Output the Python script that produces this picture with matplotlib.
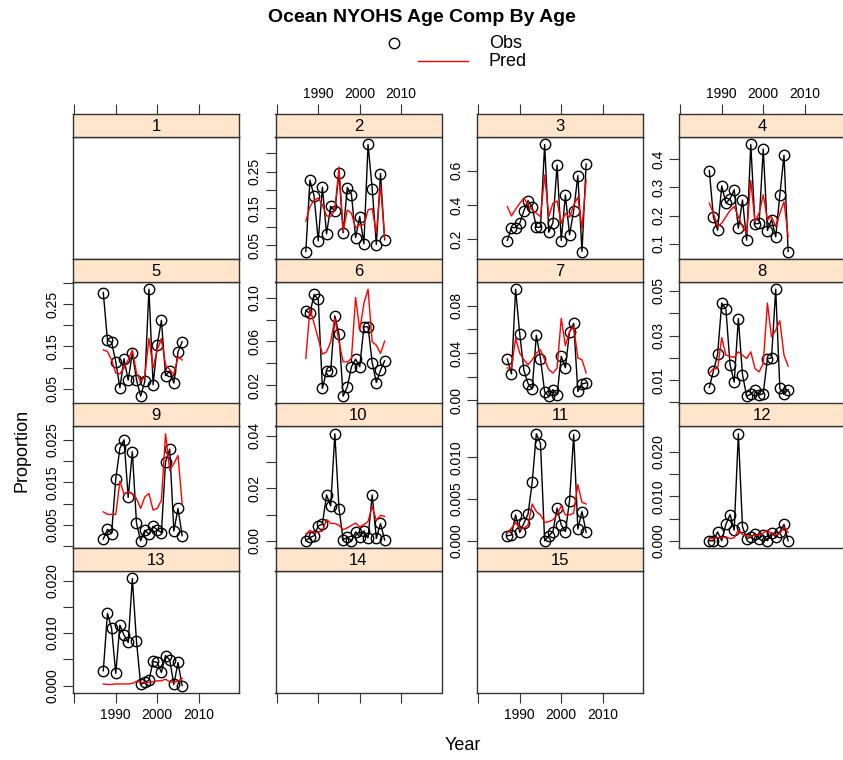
import numpy as np
import matplotlib.pyplot as plt

plt.rcParams['font.family'] = ['Liberation Sans', 'DejaVu Sans']

years = np.arange(1987, 2007)
ages = list(range(1, 16))

# observed / predicted proportions by age (ages 1, 14, 15 have no data)
obs_2 = [0.033, 0.227, 0.184, 0.062, 0.208, 0.081, 0.156, 0.143, 0.247, 0.084,
         0.207, 0.188, 0.071, 0.128, 0.054, 0.324, 0.204, 0.052, 0.245, 0.065]
pred_2 = [0.115, 0.155, 0.173, 0.178, 0.160, 0.130, 0.128, 0.146, 0.263, 0.088,
          0.146, 0.137, 0.097, 0.106, 0.106, 0.146, 0.150, 0.083, 0.214, 0.070]
obs_3 = [0.192, 0.268, 0.268, 0.293, 0.367, 0.425, 0.388, 0.270, 0.270, 0.753,
         0.241, 0.297, 0.633, 0.192, 0.458, 0.225, 0.367, 0.571, 0.128, 0.639]
pred_3 = [0.390, 0.336, 0.375, 0.410, 0.440, 0.400, 0.371, 0.351, 0.332, 0.575,
          0.332, 0.410, 0.423, 0.293, 0.351, 0.328, 0.400, 0.445, 0.264, 0.546]
obs_4 = [0.359, 0.194, 0.148, 0.305, 0.244, 0.259, 0.291, 0.155, 0.255, 0.113,
         0.451, 0.171, 0.172, 0.435, 0.147, 0.186, 0.125, 0.273, 0.413, 0.073]
pred_4 = [0.244, 0.208, 0.161, 0.173, 0.196, 0.218, 0.232, 0.196, 0.161, 0.138,
          0.324, 0.179, 0.208, 0.273, 0.185, 0.196, 0.161, 0.208, 0.249, 0.126]
obs_5 = [0.278, 0.165, 0.160, 0.114, 0.052, 0.121, 0.070, 0.135, 0.071, 0.032,
         0.067, 0.286, 0.059, 0.154, 0.212, 0.081, 0.092, 0.063, 0.137, 0.161]
pred_5 = [0.142, 0.138, 0.118, 0.087, 0.085, 0.099, 0.118, 0.142, 0.087, 0.067,
          0.079, 0.169, 0.099, 0.142, 0.169, 0.106, 0.095, 0.083, 0.126, 0.118]
obs_6 = [0.0883, 0.0856, 0.103, 0.0984, 0.017, 0.0331, 0.0331, 0.0834, 0.0664, 0.0099,
         0.0185, 0.0368, 0.0438, 0.0368, 0.0734, 0.0734, 0.0407, 0.0224, 0.0337, 0.0423]
pred_6 = [0.0444, 0.090, 0.0764, 0.0627, 0.0484, 0.0505, 0.0596, 0.081, 0.0596, 0.0413,
          0.0413, 0.0444, 0.1002, 0.0703, 0.0947, 0.1078, 0.0596, 0.0566, 0.049, 0.0603]
obs_7 = [0.035, 0.0224, 0.094, 0.0562, 0.0255, 0.0143, 0.0098, 0.0551, 0.0353, 0.0073,
         0.0036, 0.0092, 0.005, 0.0372, 0.0277, 0.0579, 0.0652, 0.0076, 0.014, 0.0148]
pred_7 = [0.0274, 0.0274, 0.0526, 0.040, 0.0344, 0.0302, 0.0344, 0.040, 0.0428, 0.0344,
          0.026, 0.0232, 0.0274, 0.0694, 0.0462, 0.0582, 0.0624, 0.0358, 0.0344, 0.0232]
obs_8 = [0.0067, 0.0142, 0.0216, 0.0446, 0.0418, 0.017, 0.0091, 0.0376, 0.0125, 0.0028,
         0.0037, 0.0055, 0.0033, 0.004, 0.0196, 0.020, 0.0508, 0.0063, 0.0036, 0.0058]
pred_8 = [0.013, 0.0152, 0.0152, 0.0291, 0.0212, 0.0207, 0.0202, 0.0227, 0.0212, 0.0197,
          0.0227, 0.0152, 0.0137, 0.0175, 0.0446, 0.0294, 0.0324, 0.0366, 0.0212, 0.0163]
obs_9 = [0.0017, 0.004, 0.003, 0.0158, 0.023, 0.025, 0.0115, 0.0222, 0.0054, 0.0013,
         0.0038, 0.0028, 0.0047, 0.0039, 0.0032, 0.0198, 0.0228, 0.0036, 0.0089, 0.0025]
pred_9 = [0.0081, 0.0075, 0.0075, 0.0075, 0.0153, 0.0122, 0.0128, 0.0124, 0.0112, 0.0089,
          0.0116, 0.0124, 0.0085, 0.0089, 0.0108, 0.0264, 0.0178, 0.0194, 0.0213, 0.010]
obs_10 = [0.0, 0.0013, 0.0019, 0.0057, 0.0063, 0.0175, 0.0133, 0.0408, 0.0122, 0.0004,
          0.0013, 0.0, 0.0034, 0.0015, 0.0038, 0.0011, 0.0175, 0.0009, 0.0066, 0.0003]
pred_10 = [0.0025, 0.004, 0.003, 0.0034, 0.0037, 0.0081, 0.0066, 0.0066, 0.0059, 0.0043,
           0.0049, 0.0059, 0.0068, 0.0053, 0.0062, 0.0074, 0.0131, 0.0078, 0.0097, 0.0093]
obs_11 = [0.0006, 0.0007, 0.0031, 0.001, 0.0021, 0.0032, 0.007, 0.0128, 0.0116, 0.0,
          0.0006, 0.0011, 0.0039, 0.0019, 0.0011, 0.0048, 0.0127, 0.0014, 0.0035, 0.001]
pred_11 = [0.001, 0.0015, 0.0022, 0.0015, 0.0015, 0.0019, 0.0044, 0.0035, 0.0031, 0.0022,
           0.0023, 0.0025, 0.0031, 0.0042, 0.0031, 0.0031, 0.0033, 0.0067, 0.0046, 0.0044]
obs_12 = [0.0, 0.0, 0.002, 0.0, 0.0037, 0.0059, 0.0024, 0.0241, 0.0032, 0.0005,
          0.0008, 0.0016, 0.0005, 0.0013, 0.0, 0.0018, 0.0009, 0.002, 0.0037, 0.0]
pred_12 = [0.0005, 0.0005, 0.0007, 0.0007, 0.0009, 0.0005, 0.0007, 0.0024, 0.0014, 0.0011,
           0.001, 0.0013, 0.0013, 0.0018, 0.0024, 0.0016, 0.0014, 0.0016, 0.0031, 0.0019]
obs_13 = [0.0028, 0.01375, 0.0109, 0.0023, 0.0115, 0.0096, 0.0082, 0.0204, 0.0084, 0.0002,
          0.0006, 0.001, 0.0046, 0.0044, 0.0025, 0.0057, 0.0049, 0.0002, 0.0044, 0.0]
pred_13 = [0.0003, 0.0002, 0.0002, 0.0003, 0.0003, 0.0003, 0.0003, 0.0004, 0.0008, 0.0006,
           0.0006, 0.0006, 0.0007, 0.0009, 0.0009, 0.0012, 0.0007, 0.0006, 0.0008, 0.0014]

obs = {2: obs_2, 3: obs_3, 4: obs_4, 5: obs_5, 6: obs_6, 7: obs_7, 8: obs_8,
       9: obs_9, 10: obs_10, 11: obs_11, 12: obs_12, 13: obs_13}
pred = {2: pred_2, 3: pred_3, 4: pred_4, 5: pred_5, 6: pred_6, 7: pred_7, 8: pred_8,
        9: pred_9, 10: pred_10, 11: pred_11, 12: pred_12, 13: pred_13}

# y ticks per panel: (tick positions, labelled positions)
yticks = {
    2: (np.arange(0.05, 0.31, 0.05), [0.05, 0.15, 0.25]),
    3: ([0.2, 0.4, 0.6], [0.2, 0.4, 0.6]),
    4: ([0.1, 0.2, 0.3, 0.4], [0.1, 0.2, 0.3, 0.4]),
    5: (np.arange(0.05, 0.31, 0.05), [0.05, 0.15, 0.25]),
    6: (np.arange(0.02, 0.11, 0.02), [0.02, 0.06, 0.10]),
    7: (np.arange(0.0, 0.09, 0.02), [0.0, 0.04, 0.08]),
    8: (np.arange(0.0, 0.051, 0.01), [0.01, 0.03, 0.05]),
    9: (np.arange(0.0, 0.026, 0.005), [0.005, 0.015, 0.025]),
    10: (np.arange(0.0, 0.041, 0.01), [0.0, 0.02, 0.04]),
    11: ([0.0, 0.005, 0.010], [0.0, 0.005, 0.010]),
    12: (np.arange(0.0, 0.021, 0.005), [0.0, 0.010, 0.020]),
    13: (np.arange(0.0, 0.021, 0.005), [0.0, 0.010, 0.020]),
}
ydec = {2: 2, 3: 1, 4: 1, 5: 2, 6: 2, 7: 2, 8: 2, 9: 3, 10: 2, 11: 3, 12: 3, 13: 3}
xticks = [1980, 1990, 2000, 2010]
xlim = (1979.7, 2019.7)

W, H = 843, 760
fig = plt.figure(figsize=(W / 100, H / 100), dpi=100)

col_left = [73, 275.5, 477, 679]
pw, sh, ph = 166, 23, 122
row_top = [114, 258.7, 403.3, 548]
frame = '#333333'


def px(x, y, w, h):
    return [x / W, 1 - (y + h) / H, w / W, h / H]


def fmt(v, d):
    return ('%.' + str(d) + 'f') % v


for k, age in enumerate(ages):
    r, c = divmod(k, 4)
    x0, y0 = col_left[c], row_top[r]
    ax = fig.add_axes(px(x0, y0 + sh, pw, ph))
    st = fig.add_axes(px(x0, y0, pw, sh))
    st.set_facecolor('#FFE5CC')
    st.text(0.5, 0.45, str(age), ha='center', va='center', fontsize=12,
            transform=st.transAxes)
    st.set_xlim(xlim)
    st.set_yticks([])
    for a in (ax, st):
        for s in a.spines.values():
            s.set_color(frame)
            s.set_linewidth(1)
    ax.set_xlim(xlim)

    # top axis on first row
    if r == 0:
        st.xaxis.tick_top()
        st.set_xticks(xticks)
        if c in (1, 3):
            st.set_xticklabels(['', '1990', '2000', '2010'])
        else:
            st.set_xticklabels([])
        st.tick_params(axis='x', length=7, width=0.8, color=frame,
                       labelsize=10, pad=2)
    else:
        st.set_xticks([])

    # bottom axis on last row
    if r == 3:
        ax.set_xticks(xticks)
        if c in (0, 2):
            ax.set_xticklabels(['', '1990', '2000', '2010'])
        else:
            ax.set_xticklabels([])
        ax.tick_params(axis='x', length=7, width=0.8, color=frame,
                       labelsize=10, pad=4)
    else:
        ax.set_xticks([])

    if age not in obs:
        ax.set_yticks([])
        continue

    o = np.array(obs[age])
    p = np.array(pred[age])
    ax.plot(years, o, '-', color='black', lw=1, marker='o', ms=7.5,
            mfc='none', mec='black', mew=1)
    ax.plot(years, p, '-', color='red', lw=1)
    lo = min(o.min(), p.min())
    hi = max(o.max(), p.max())
    pad = 0.07 * (hi - lo)
    ax.set_ylim(lo - pad, hi + pad)

    ticks, labelled = yticks[age]
    ticks = list(ticks)
    labs = []
    for t in ticks:
        if any(abs(t - l) < 1e-9 for l in labelled):
            labs.append(fmt(t, ydec[age]))
        else:
            labs.append('')
    ax.set_yticks(ticks)
    ax.set_yticklabels(labs, rotation=90, va='center')
    ax.tick_params(axis='y', length=7, width=0.8, color=frame,
                   labelsize=10, pad=3)

fig.text(0.5, 1 - 18 / H, 'Ocean NYOHS Age Comp By Age', ha='center',
         va='center', fontsize=14, fontweight='bold')
fig.lines.append(plt.Line2D([394 / W], [1 - 43 / H], marker='o', ms=7.5,
                            mfc='none', mec='black', mew=1,
                            transform=fig.transFigure))
fig.lines.append(plt.Line2D([418 / W, 468 / W], [1 - 61 / H, 1 - 61 / H],
                            color='red', lw=1, transform=fig.transFigure))
fig.text(489 / W, 1 - 43 / H, 'Obs', ha='left', va='center', fontsize=13)
fig.text(489 / W, 1 - 61 / H, 'Pred', ha='left', va='center', fontsize=13)
fig.text(463 / W, 1 - 745 / H, 'Year', ha='center', va='center', fontsize=13)
fig.text(22 / W, 1 - 450 / H, 'Proportion', ha='center', va='center',
         fontsize=13, rotation=90)

fig.savefig('out.png', dpi=100)
